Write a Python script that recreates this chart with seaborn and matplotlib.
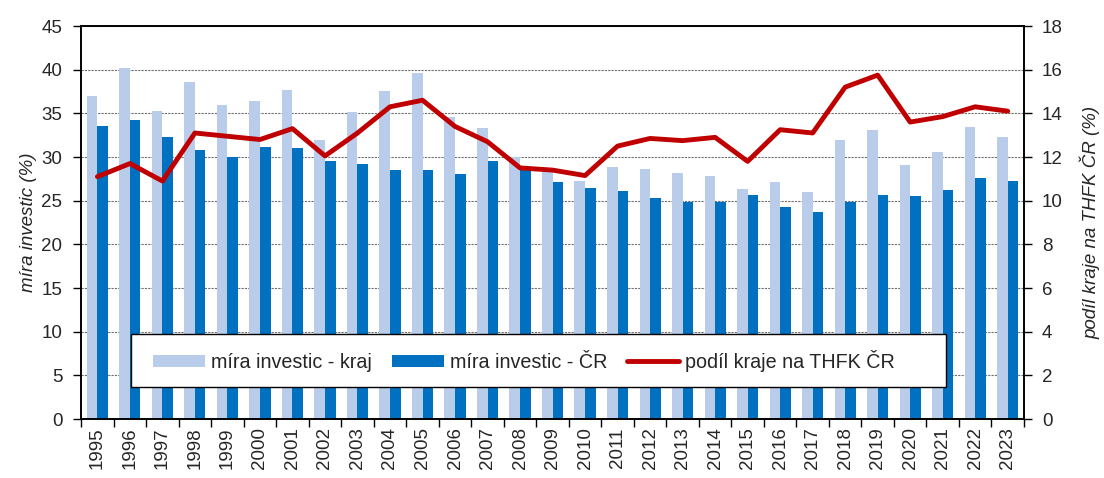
import matplotlib
matplotlib.use('Agg')
import matplotlib.pyplot as plt
import seaborn as sns
import pandas as pd
import numpy as np
from matplotlib.patches import Patch, Rectangle
from matplotlib.lines import Line2D

# Data
years = list(range(1995, 2024))
mira_kraj = [37.0, 40.2, 35.3, 38.6, 36.0, 36.4, 37.7, 32.0, 35.1, 37.6,
             39.6, 34.6, 33.3, 30.0, 28.3, 27.3, 28.9, 28.6, 28.2, 27.8,
             26.3, 27.1, 26.0, 32.0, 33.1, 29.1, 30.6, 33.4, 32.3]
mira_cr = [33.5, 34.2, 32.3, 30.8, 30.0, 31.1, 31.0, 29.6, 29.2, 28.5,
           28.5, 28.1, 29.6, 28.5, 27.1, 26.5, 26.1, 25.3, 24.8, 24.8,
           25.6, 24.3, 23.7, 24.8, 25.7, 25.5, 26.2, 27.6, 27.2]
podil_thfk = [11.1, 11.7, 10.9, 13.1, 12.95, 12.8, 13.3, 12.05, 13.1, 14.3,
              14.6, 13.4, 12.7, 11.5, 11.4, 11.15, 12.5, 12.85, 12.75, 12.9,
              11.8, 13.25, 13.1, 15.2, 15.75, 13.6, 13.85, 14.3, 14.1]

label_kraj = 'míra investic - kraj'
label_cr = 'míra investic - ČR'
label_podil = 'podíl kraje na THFK ČR'

light_blue = '#B9CDEB'
dark_blue = '#0070C0'
dark_red = '#C00000'

df = pd.DataFrame({
    'rok': [str(y) for y in years] * 2,
    'hodnota': mira_kraj + mira_cr,
    'serie': [label_kraj] * len(years) + [label_cr] * len(years),
})

sns.set_style('white')
plt.rcParams['font.family'] = ['Liberation Sans', 'DejaVu Sans']
fs = 13.5
leg_fs = 14.2

fig = plt.figure(figsize=(11.04, 4.78), dpi=100)
ax = fig.add_axes([0.0735, 0.1234, 0.854, 0.8222])

sns.barplot(data=df, x='rok', y='hodnota', hue='serie',
            palette=[light_blue, dark_blue], width=0.65, gap=0,
            saturation=1, ax=ax, legend=False, linewidth=0, zorder=2)

ax.set_ylim(0, 45)
ax.set_yticks(np.arange(0, 46, 5))
ax.set_xlim(-0.5, len(years) - 0.5)
ax.yaxis.grid(True, color='#707070', linestyle=(0, (2, 1)), linewidth=0.8, zorder=0)
ax.set_axisbelow(True)

# category boundaries as tick marks, labels centered without tick marks
ax.set_xticks(np.arange(-0.5, len(years), 1), minor=True)
ax.tick_params(axis='x', which='major', bottom=True, length=0, labelsize=fs, rotation=90, pad=6)
ax.tick_params(axis='x', which='minor', bottom=True, length=6, width=1, direction='out', color='black')
ax.tick_params(axis='y', left=True, length=6, width=1, direction='out', labelsize=fs, color='black', pad=7.5)
ax.set_xlabel('')
ax.set_ylabel('míra investic (%)', fontsize=fs, style='italic', labelpad=3)
for s in ax.spines.values():
    s.set_color('black')
    s.set_linewidth(1.2)

ax2 = ax.twinx()
sns.lineplot(x=np.arange(len(years)), y=podil_thfk, ax=ax2, color=dark_red,
             linewidth=3.5, zorder=3)
ax2.set_ylim(0, 18)
ax2.set_yticks(np.arange(0, 19, 2))
ax2.tick_params(axis='y', right=True, length=6, width=1, direction='out', labelsize=fs, color='black', pad=7)
ax2.set_ylabel('podíl kraje na THFK ČR (%)', fontsize=fs, style='italic', labelpad=12)
for s in ax2.spines.values():
    s.set_color('black')
    s.set_linewidth(1.2)

# legend frame (wider than its content, as in the reference)
frame = Rectangle((0.053, 0.0814), 0.864, 0.135, transform=ax2.transAxes,
                  facecolor='white', edgecolor='black', linewidth=1.0, zorder=9)
ax2.add_patch(frame)

handles = [
    Patch(facecolor=light_blue, edgecolor='none', label=label_kraj),
    Patch(facecolor=dark_blue, edgecolor='none', label=label_cr),
    Line2D([0], [0], color=dark_red, linewidth=3.5, label=label_podil),
]
leg = ax2.legend(handles=handles, loc='center left', bbox_to_anchor=(0.0763, 0.148),
                 ncol=3, fontsize=leg_fs, frameon=False, handlelength=2.65, handleheight=0.55,
                 handletextpad=0.3, borderaxespad=0, borderpad=0, columnspacing=1.0)
leg.set_zorder(10)

fig.savefig('out.png', dpi=100)
